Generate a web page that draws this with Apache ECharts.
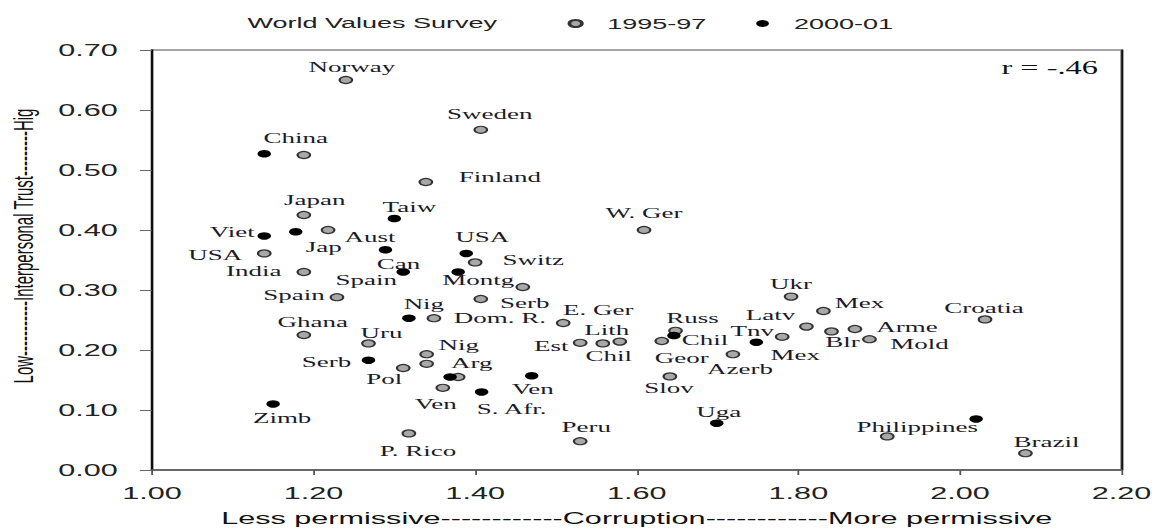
<!DOCTYPE html>
<html>
<head>
<meta charset="utf-8">
<script src="https://cdn.jsdelivr.net/npm/echarts@6/dist/echarts.min.js"></script>
<style>
html,body{margin:0;padding:0;background:#fff;overflow:hidden;width:1156px;height:529px;}
#wrap{position:absolute;left:0;top:0;width:642.22px;height:529px;transform:scaleX(1.8);transform-origin:0 0;}
</style>
</head>
<body>
<div id="wrap"></div>
<script>
// ---------------- DATA ----------------
const chartTitle = 'World Values Survey';
const seriesNames = ['1995-97', '2000-01'];
const xAxisTitle = 'Less permissive------------Corruption------------More permissive';
const yAxisTitle = 'Low-----------Interpersonal Trust---------Hig';
const corrNote = 'r = -.46';

// 1995-97 wave
const labels9597 = ['Norway','Sweden','China','Finland','Japan','Aust','W. Ger','USA','Switz','India',
  '','Spain','Serb','Dom. R.','E. Ger','Ghana','Uru','Est','Chil','Lith',
  'Geor','Russ','Nig','Arg','Pol','','Ven','P. Rico','Peru','Slov',
  'Azerb','Mex','Latv','Ukr','Mex','Blr','Arme','Mold','Croatia','Philippines','Brazil'];
const corruption9597 = [1.240,1.407,1.188,1.339,1.188,1.218,1.609,1.139,1.400,1.188,
  1.459,1.229,1.407,1.349,1.509,1.188,1.268,1.530,1.558,1.579,
  1.631,1.648,1.340,1.340,1.311,1.379,1.360,1.318,1.530,1.641,
  1.719,1.780,1.810,1.791,1.831,1.841,1.870,1.888,2.031,1.910,2.081];
const trust9597 = [0.650,0.567,0.525,0.480,0.425,0.400,0.400,0.361,0.346,0.330,
  0.305,0.288,0.285,0.253,0.245,0.225,0.211,0.212,0.211,0.214,
  0.215,0.232,0.193,0.177,0.170,0.155,0.137,0.061,0.048,0.156,
  0.193,0.222,0.239,0.289,0.265,0.231,0.235,0.218,0.251,0.056,0.028];

// 2000-01 wave
const labels0001 = ['','Viet','Jap','Taiw','Can','USA','Spain','Montg','Nig','Serb',
  'Zimb','','S. Afr.','Ven','Chil','Tnv','Uga',''];
const corruption0001 = [1.139,1.139,1.178,1.300,1.289,1.389,1.311,1.379,1.318,1.268,
  1.150,1.369,1.408,1.470,1.646,1.748,1.699,2.020];
const trust0001 = [0.527,0.390,0.397,0.419,0.367,0.361,0.330,0.330,0.253,0.183,
  0.110,0.155,0.130,0.157,0.224,0.213,0.078,0.085];

// ---------------- STYLE ----------------
const SX = 1.8; // horizontal stretch of the reference picture
const sans = '"Liberation Sans", Arial, sans-serif';
const serif = '"Liberation Serif", "Times New Roman", serif';
// label offsets from the dot centre (screen px)
const off9597 = [[6,-13],[9,-16],[-8,-17],[74,-5],[11,-15],[42,7],[0,-17],[-49,2],[58,-2],[-50,-1],
  [0,0],[-43,-2],[44,4],[66,0],[35,-13],[9,-13],[13,-10],[-29,3],[6,13],[-13,-11],
  [20,17],[17,-13],[32,-9],[45,-1],[-19,11],[0,0],[-7,16],[9,18],[6,-14],[-1,12],
  [7,15],[13,18],[-36,-11],[0,-12],[36,-8],[11,11],[52,-2],[50,5],[-1,-11],[30,-9],[21,-11]];
const off0001 = [[0,0],[-32,-4],[28,15],[15,-11],[13,14],[16,-16],[-37,8],[20,8],[15,-14],[-42,2],
  [9,14],[0,0],[30,17],[1,13],[31,5],[-4,-11],[2,-11],[0,0]];

function buildData(xs, ys, labels, offs) {
  return xs.map((x, i) => ({
    value: [x, ys[i]],
    label: { show: labels[i] !== '', formatter: labels[i], offset: [offs[i][0] / SX, offs[i][1]] }
  }));
}

const labelStyle = {
  show: true, position: 'inside', align: 'center', verticalAlign: 'middle',
  fontFamily: serif, fontSize: 15, lineHeight: 13, color: '#1b1b2c'
};

const chart = echarts.init(document.getElementById('wrap'), null, { renderer: 'svg' });
chart.setOption({
  animation: false,
  backgroundColor: '#fff',
  title: {
    text: chartTitle, left: 137.5, top: 15, padding: 0,
    textStyle: { fontFamily: sans, fontSize: 15, fontWeight: 'normal', color: '#222' }
  },
  legend: {
    data: seriesNames, left: 315.3, top: 16, padding: 0,
    itemWidth: 25, itemHeight: 7, itemGap: 27.8,
    textStyle: { fontFamily: sans, fontSize: 15, color: '#222' }
  },
  grid: {
    left: 84.4, right: 18.9, top: 50, bottom: 59,
    containLabel: false, outerBoundsMode: 'none',
    show: true, borderColor: '#888', borderWidth: 1.5
  },
  xAxis: {
    type: 'value', min: 1.0, max: 2.2, interval: 0.2,
    name: xAxisTitle, nameLocation: 'middle', nameGap: 40,
    nameTextStyle: { fontFamily: sans, fontSize: 17, lineHeight: 17, color: '#111' },
    axisLine: { show: true, onZero: false, lineStyle: { color: '#555', width: 1.5 } },
    axisTick: { show: true, length: 5, lineStyle: { color: '#555' } },
    axisLabel: { fontFamily: sans, fontSize: 17, color: '#222', margin: 15,
      formatter: v => v.toFixed(2) },
    splitLine: { show: false }
  },
  yAxis: [{
    type: 'value', min: 0, max: 0.7, interval: 0.1,
    name: yAxisTitle, nameLocation: 'middle', nameGap: 64, nameRotate: 90,
    nameTextStyle: { fontFamily: sans, fontSize: 15, color: '#111', padding: [0, 0, 0, 28] },
    axisLine: { show: true, onZero: false, lineStyle: { color: '#111', width: 1.3 } },
    axisTick: { show: true, length: 6.7, lineStyle: { color: '#666' } },
    axisLabel: { fontFamily: sans, fontSize: 17, color: '#222', margin: 19,
      formatter: v => v.toFixed(2) },
    splitLine: { show: false }
  }, {
    type: 'value', min: 0, max: 0.7, interval: 0.1, position: 'right',
    axisLine: { show: true, onZero: false, lineStyle: { color: '#111', width: 1.2 } },
    axisTick: { show: false }, axisLabel: { show: false }, splitLine: { show: false }
  }],
  graphic: [{
    type: 'text', right: 32, top: 59,
    style: { text: corrNote, font: '18px ' + serif, fill: '#111' }
  }],
  series: [{
    name: seriesNames[0], type: 'scatter', symbol: 'circle', symbolSize: 7,
    itemStyle: { color: '#a8a8a8', borderColor: '#333', borderWidth: 1.2, opacity: 1 },
    label: labelStyle,
    emphasis: { disabled: true },
    data: buildData(corruption9597, trust9597, labels9597, off9597)
  }, {
    name: seriesNames[1], type: 'scatter', symbol: 'circle', symbolSize: 7.5,
    itemStyle: { color: '#000', opacity: 1 },
    label: labelStyle,
    emphasis: { disabled: true },
    data: buildData(corruption0001, trust0001, labels0001, off0001)
  }]
});
</script>
</body>
</html>
